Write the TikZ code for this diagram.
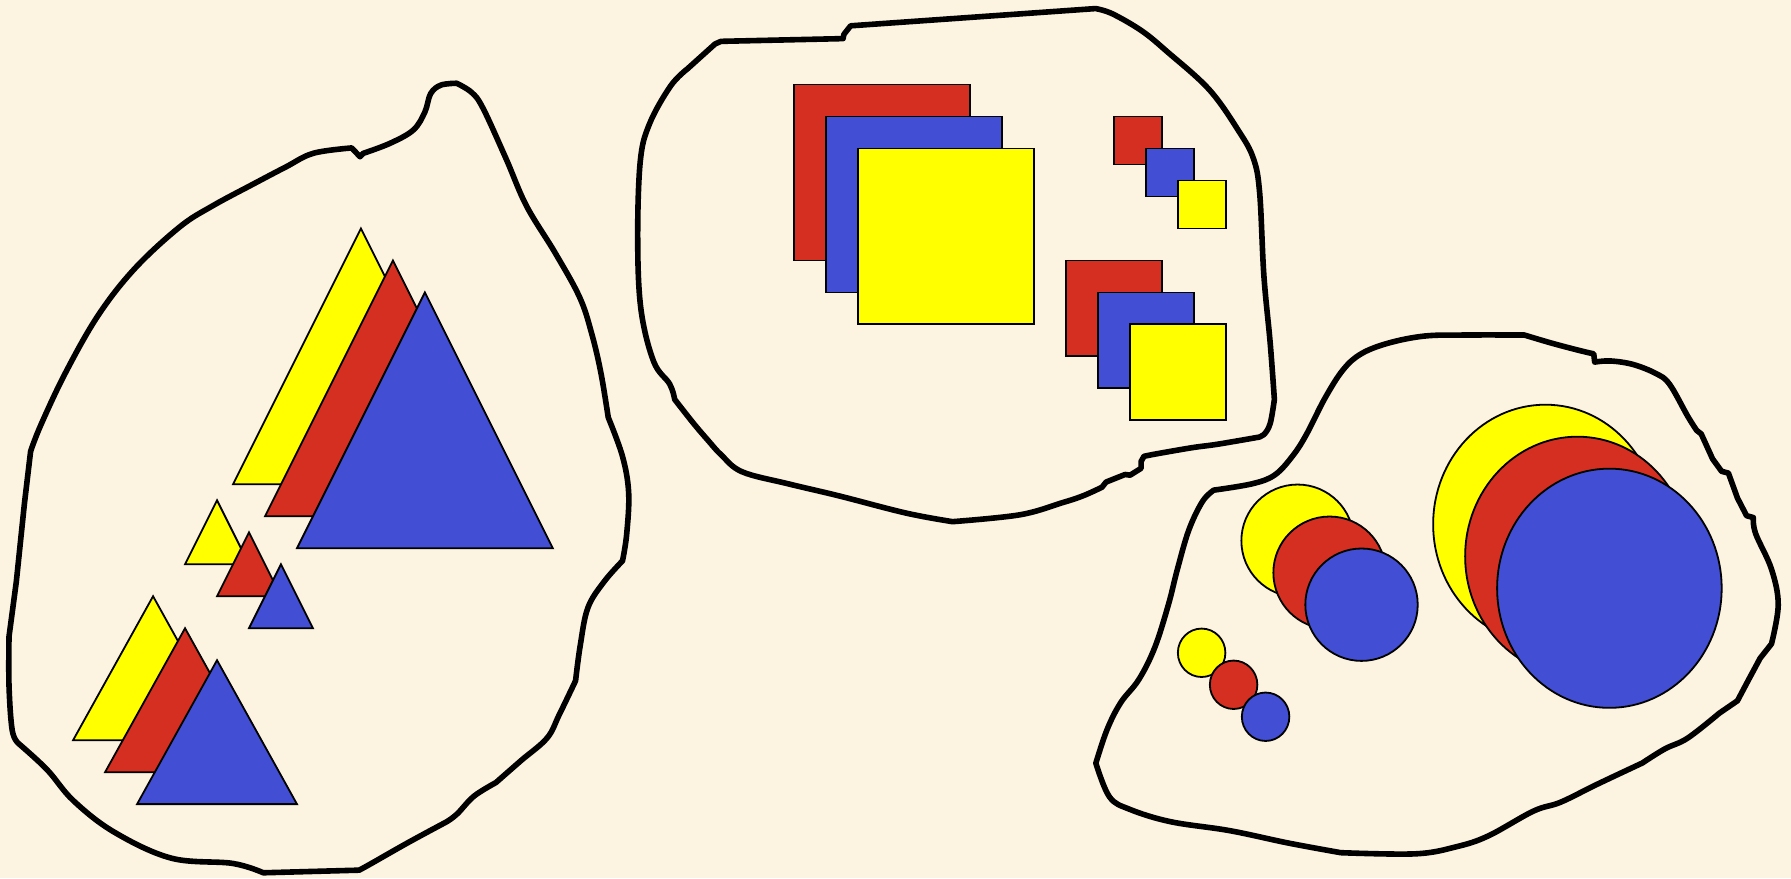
\documentclass[tikz,border=0pt]{standalone}
\definecolor{bg}{RGB}{252,243,224}
\definecolor{cy}{RGB}{255,255,0}
\definecolor{cr}{RGB}{212,47,32}
\definecolor{cb}{RGB}{66,78,211}
\begin{document}
\begin{tikzpicture}[x=1.1422pt,y=-1.1422pt,
  blob/.style={draw=black,line width=5.6pt,line join=round,line cap=round},
  shp/.style={draw=black,line width=1.8pt,line join=miter}]
\fill[bg] (0,0) rectangle (1568,768.7);
\useasboundingbox (0,0) rectangle (1568,768.7);

% ---------- left blob: triangles ----------
\draw[blob]
 plot[smooth,tension=0.6] coordinates {(318.1,134.2) (341.4,125.5) (361.9,113.8) (372,98) (377,82) (386,74.5) (399.8,72.9)}
 -- plot[smooth,tension=0.6] coordinates {(399.8,72.9) (413,81) (423,95) (443.2,139.3) (461,180.4) (486.1,221.5) (507.5,260.3) (518,292) (526,326) (532.5,365.4)}
 -- plot[smooth,tension=0.6] coordinates {(532.5,365.4) (545,399.6) (550.4,431.6) (548.6,468.1) (545,491)}
 -- plot[smooth,tension=0.6] coordinates {(545,491) (528.9,509.2) (514.7,532) (508,565) (503.9,596)}
 -- plot[smooth,tension=0.6] coordinates {(503.9,596) (489.6,625.7) (478.9,646.2) (456,666) (434.2,685.1)}
 -- plot[smooth,tension=0.6] coordinates {(434.2,685.1) (415,697) (400.3,712.5) (391.3,719.3)}
 -- plot[smooth,tension=0.6] coordinates {(391.3,719.3) (357.4,737.6) (325.2,755.9) (314.5,761.8)}
 -- plot[smooth,tension=0.6] coordinates {(230.5,764.1) (203.7,755.9) (150,751.3) (100,728.5) (64.3,701) (41.1,673.7) (16.1,650.8)}
 -- plot[smooth,tension=0.6] coordinates {(16.1,650.8) (10.7,639.4) (7.9,600.6) (7.9,557.2)}
 -- (14.3,509.2) -- (21.4,440.7) -- (26.8,395.1)
 -- plot[smooth,tension=0.6] coordinates {(26.8,395.1) (35.7,372.2) (57.2,326.6) (85.8,276.3) (117.9,235.2) (157.3,198.7) (185.8,180.4) (221.6,161.2) (250.2,146.2) (274.3,134.2) (307.9,129.5)}
 -- (315.2,137.2) -- cycle;

\filldraw[shp,fill=cy] (316,200) -- (428,424) -- (204,424) -- cycle;
\filldraw[shp,fill=cr] (344,228) -- (456,452) -- (232,452) -- cycle;
\filldraw[shp,fill=cb] (372,256) -- (484,480) -- (260,480) -- cycle;

\filldraw[shp,fill=cy] (190,438) -- (218,494) -- (162,494) -- cycle;
\filldraw[shp,fill=cr] (218,466) -- (246,522) -- (190,522) -- cycle;
\filldraw[shp,fill=cb] (246,494) -- (274,550) -- (218,550) -- cycle;

\filldraw[shp,fill=cy] (134,522) -- (204,648) -- (64,648) -- cycle;
\filldraw[shp,fill=cr] (162,550) -- (232,676) -- (92,676) -- cycle;
\filldraw[shp,fill=cb] (190,578) -- (260,704) -- (120,704) -- cycle;

% ---------- middle blob: squares ----------
\draw[blob]
 (631.2,36.2) -- (738.1,33.8) -- (738.8,30.1) -- (744.7,22.6) -- (959.2,7.5)
 -- plot[smooth,tension=0.6] coordinates {(959.2,7.5) (973.9,12.1) (999.7,27.1) (1021.8,45.2) (1058.6,78.4) (1084.4,114.6) (1097.3,138.7) (1102.8,168.8) (1106.5,241.2) (1112,300) (1115.7,349.7)}
 -- plot[smooth,tension=0.6] coordinates {(1115.7,349.7) (1112,370.8) (1106.5,380.5) (1101,382.9)}
 -- plot[smooth,tension=0.6] coordinates {(1101,382.9) (1066,388.9) (1043.9,391.9) (1012.6,397.3) (1001.5,399.5)}
 -- (999,404) -- (999,410) -- (989.4,416) -- (985,415.4) -- (968.4,422) -- (964.7,426.6)
 -- plot[smooth,tension=0.6] coordinates {(964.7,426.6) (948.1,434.1) (929.7,440.2) (892.8,450.7) (833.9,456.7)}
 -- plot[smooth,tension=0.6] coordinates {(833.9,456.7) (793.3,449.2) (734.4,434.1) (690.2,423.6) (649.6,413) (631.2,398) (620.2,385.9) (607.3,370.8) (590.7,349.7)}
 -- plot[smooth,tension=0.6] coordinates {(590.7,349.7) (586.3,336.2) (572.3,316.6) (561.2,271.3) (558.3,211) (560.5,141.7) (568.6,108.5) (587,75.4) (601.8,60.3)}
 -- (626,38.5) -- cycle;

\filldraw[shp,fill=cr] (695,74) rectangle (849,228);
\filldraw[shp,fill=cb] (723,102) rectangle (877,256);
\filldraw[shp,fill=cy] (751,130) rectangle (905,284);

\filldraw[shp,fill=cr] (975,102) rectangle (1017,144);
\filldraw[shp,fill=cb] (1003,130) rectangle (1045,172);
\filldraw[shp,fill=cy] (1031,158) rectangle (1073,200);

\filldraw[shp,fill=cr] (933,228) rectangle (1017,312);
\filldraw[shp,fill=cb] (961,256) rectangle (1045,340);
\filldraw[shp,fill=cy] (989,284) rectangle (1073,368);

% ---------- right blob: circles ----------
\draw[blob]
 plot[smooth,tension=0.6] coordinates {(1334.5,293.3) (1358.4,300.4) (1382.2,306.7) (1395.3,309.8)}
 -- plot[smooth,tension=0.6] coordinates {(1396.1,317) (1410,316) (1429.8,319.1) (1449.7,327) (1461.6,336.3) (1477.5,364.3) (1485.4,376.8)}
 -- (1489.4,379.9) -- (1499.3,401.7) -- (1507.2,412.6) -- (1513.2,414.2) -- (1521.1,436) -- (1529.1,451.5) -- (1535,453.1)
 -- plot[smooth,tension=0.6] coordinates {(1535,453.1) (1537,467.1) (1550.9,498.3) (1556.8,529.4) (1550.9,563.7)}
 -- (1541,576.2) -- (1531,594.8) -- (1521.1,613.5) -- (1505.2,624.4)
 -- plot[smooth,tension=0.6] coordinates {(1505.2,624.4) (1477.5,646.2) (1457.6,655.6) (1437.8,668)}
 -- plot[smooth,tension=0.6] coordinates {(1437.8,668) (1398.1,686.7) (1366.3,702.3) (1342.5,710.1) (1302.8,731.9) (1275,741.3) (1239.3,747.5) (1173.8,746.5)}
 -- plot[smooth,tension=0.6] coordinates {(1173.8,746.5) (1128.1,738.1) (1076.5,727.2) (1024.9,719.4) (989.2,708.6) (971.3,697.6) (959.4,668.1)}
 -- plot[smooth,tension=0.6] coordinates {(959.4,668.1) (969.3,638.5) (981.2,615.1) (997.1,594.8) (1011,566.8) (1022.9,529.4) (1030.8,498.3) (1040.8,464) (1052.7,439.1) (1062.6,429.1)}
 -- plot[smooth,tension=0.6] coordinates {(1062.6,429.1) (1096.4,423.5) (1116.2,415.7) (1132.1,398.6) (1144,379.9) (1159.9,348.7) (1175.8,323.8) (1191.6,309.8) (1215.4,300.4) (1247.2,294.2) (1283,293.3) (1334.5,293.3)}
 -- cycle;

\filldraw[shp,fill=cy] (1353,459) ellipse [x radius=98.3,y radius=104.7];
\filldraw[shp,fill=cr] (1381,487) ellipse [x radius=98.3,y radius=104.7];
\filldraw[shp,fill=cb] (1409,515) ellipse [x radius=98.3,y radius=104.7];

\filldraw[shp,fill=cy] (1136,473.4) circle [radius=49.2];
\filldraw[shp,fill=cr] (1164,501.4) circle [radius=49.2];
\filldraw[shp,fill=cb] (1192,529.4) circle [radius=49.2];

\filldraw[shp,fill=cy] (1052,571.5) ellipse [x radius=20.8,y radius=21.2];
\filldraw[shp,fill=cr] (1080,599.5) ellipse [x radius=20.8,y radius=21.2];
\filldraw[shp,fill=cb] (1108,627.5) ellipse [x radius=20.8,y radius=21.2];
\end{tikzpicture}
\end{document}
